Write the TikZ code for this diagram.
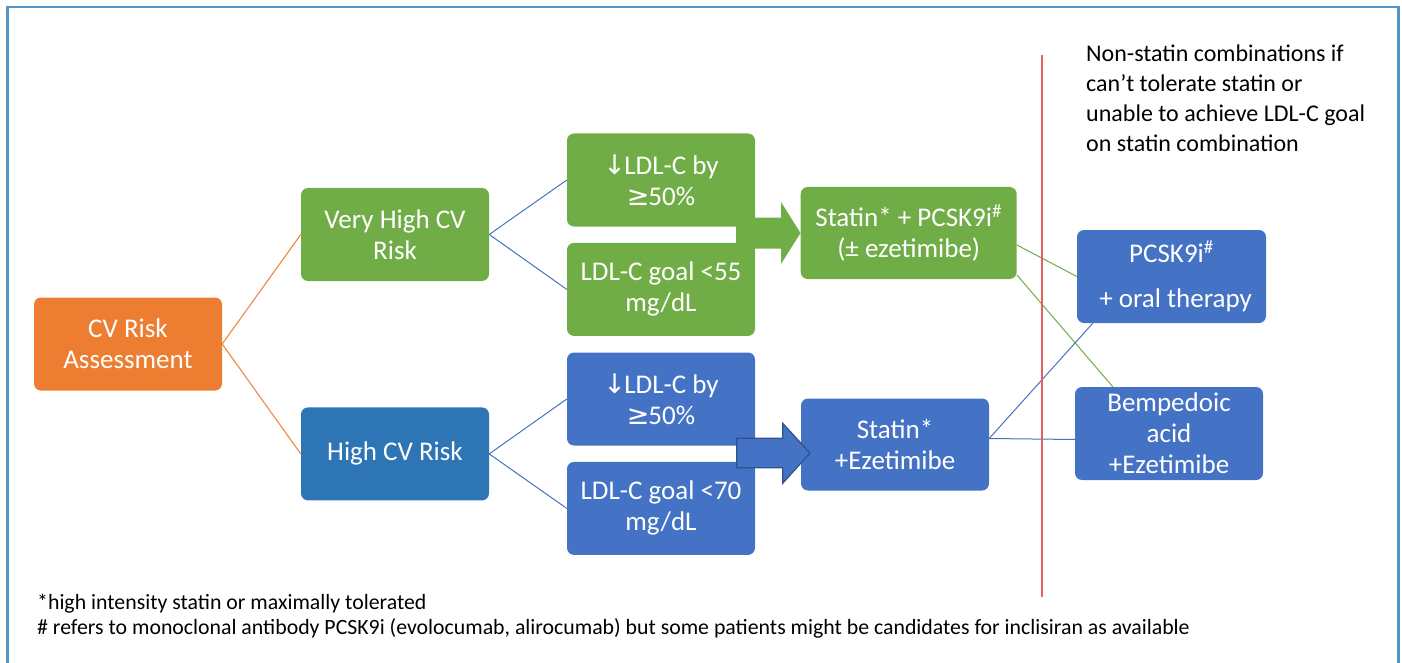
\documentclass[tikz,border=0pt]{standalone}
\usepackage{fontspec}
\setmainfont{Carlito}
\newfontfamily\symfont{DejaVu Sans}
\usetikzlibrary{positioning}

\definecolor{riskorange}{HTML}{ED7D31}
\definecolor{vhgreen}{HTML}{70AD47}
\definecolor{hblue}{HTML}{2E75B6}
\definecolor{medblue}{HTML}{4472C4}
\definecolor{arrowedge}{HTML}{2F528F}
\definecolor{divred}{RGB}{226,96,96}
\definecolor{frameblue}{HTML}{4F96C8}

\newcommand{\down}{{\symfont ↓}\kern-1.5pt}
\newcommand{\atleast}{{\symfont ≥}\kern-1pt}

\tikzset{
  box/.style={rounded corners=7pt, minimum width=188pt, minimum height=93pt,
    inner sep=0pt, align=center, text=white, font=\fontsize{27}{31}\selectfont},
  link/.style={line width=1pt},
}

\begin{document}
\begin{tikzpicture}[x=1pt,y=-1pt]
\useasboundingbox (0,0) rectangle (1402,663);
\draw[frameblue, line width=2.5pt] (7.5,663) -- (7.5,7) -- (1398.5,7) -- (1398.5,663);

% risk levels
\node[box, fill=riskorange] (risk) at (128,344) {CV Risk\\Assessment};
\node[box, fill=vhgreen] (vhigh) at (395,234.5) {Very High CV\\Risk};
\node[box, fill=hblue, below=126pt of vhigh] (high) {High CV Risk};

% goals
\node[box, fill=vhgreen] (gdrop) at (661,180) {\down LDL-C by\\\atleast 50\%};
\node[box, fill=vhgreen, below=16pt of gdrop] (ggoal) {LDL-C goal <55\\mg/dL};
\node[box, fill=medblue] (bdrop) at (661,399) {\down LDL-C by\\\atleast 50\%};
\node[box, fill=medblue, below=16pt of bdrop] (bgoal) {LDL-C goal <70\\mg/dL};

% statin combinations
\node[box, fill=vhgreen, minimum width=216pt, minimum height=92pt] (gcomb) at (908.7,233)
  {Statin* + PCSK9i\textsuperscript{\#}\\(± ezetimibe)};
\node[box, fill=medblue, minimum height=92pt] (bcomb) at (895,444.5) {Statin*\\+Ezetimibe};

% non-statin combinations
\node[box, fill=medblue, minimum width=189pt] (pcsk) at (1171.5,276.5)
  {PCSK9i\textsuperscript{\#}\\[14pt]\hspace{0.3em}+ oral therapy};
\node[box, fill=medblue] (bemp) at (1169,433.5) {Bempedoic\\acid\\+Ezetimibe};

% block arrows
\fill[vhgreen] (736,217.5) -- (781,217.5) -- (781,202) -- (gcomb.west)
  -- (781,264) -- (781,248.5) -- (736,248.5) -- cycle;
\filldraw[fill=medblue, draw=arrowedge, line width=1.2pt] (736.7,438.3) -- (782.7,438.3)
  -- (782.7,423.3) -- (810,453) -- (782.7,483.3) -- (782.7,467.7) -- (736.7,467.7) -- cycle;

% connectors
\draw[link, riskorange] (risk.east) -- (vhigh.west);
\draw[link, riskorange] (risk.east) -- (high.west);
\draw[link, medblue] (vhigh.east) -- (gdrop.west);
\draw[link, medblue] (vhigh.east) -- (ggoal.west);
\draw[link, medblue] (high.east) -- (bdrop.west);
\draw[link, medblue] (high.east) -- (bgoal.west);
\draw[link, vhgreen] ([yshift=-12pt]gcomb.east) -- (pcsk.west);
\draw[link, vhgreen] ([yshift=-42pt]gcomb.east) -- ([xshift=38pt]bemp.north west);
\draw[link, medblue] ([yshift=6pt]bcomb.east) -- ([xshift=16pt]pcsk.south west);
\draw[link, medblue] ([yshift=6pt]bcomb.east) -- ([yshift=-6pt]bemp.west);

% divider and notes
\draw[divred, line width=1.8pt] (1041.7,55) -- (1041.7,597);
\node[anchor=north west, inner sep=0pt, align=left, font=\fontsize{24}{30}\selectfont] (note)
  at (1086,45) {Non-statin combinations if\\can’t tolerate statin or\\unable to achieve LDL-C goal\\on statin combination};
\node[anchor=north west, inner sep=0pt, align=left, font=\fontsize{21.8}{25}\selectfont] (foot)
  at (37,594) {*high intensity statin or maximally tolerated\\\# refers to monoclonal antibody PCSK9i (evolocumab, alirocumab) but some patients might be candidates for inclisiran as available};
\end{tikzpicture}
\end{document}
